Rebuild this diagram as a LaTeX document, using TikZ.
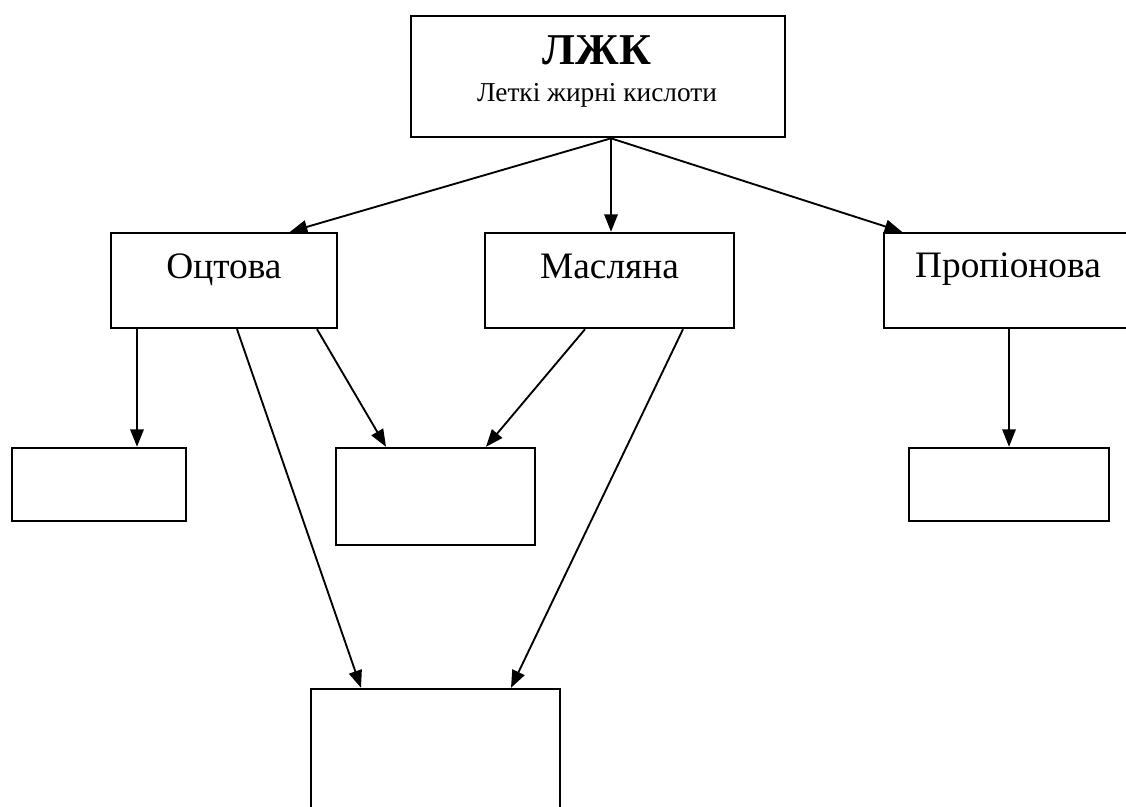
\documentclass[tikz,border=0pt]{standalone}
\usepackage{fontspec}
\setmainfont{Liberation Serif}
\usetikzlibrary{arrows.meta,positioning}
\begin{document}
\begin{tikzpicture}
[x=0.75pt,y=-0.75pt,
  boxdecorate/.style={shape=rectangle,draw,line width=1.8pt,inner sep=0pt},%
  textdecorate/.style={anchor=base,inner sep=0pt,font=\fontsize{28}{32}\selectfont},%
  linedecorate/.style={-{Triangle[length=13pt,width=10pt]},line width=1.4pt}]
\useasboundingbox (0,0) rectangle (1126,806);
%%% top box
\node (ljk) at (598,76.5) [boxdecorate,line width=2pt,minimum width=280.5pt,minimum height=90.75pt] {};
\node at (597,65) [textdecorate,font=\fontsize{33}{36}\selectfont\bfseries] {ЛЖК};
\node at (597,102) [textdecorate,font=\fontsize{20.5}{24}\selectfont] {Леткі жирні кислоти};
%%% acids
% nodes or boxes
\node (ocet) at (224,280.5) [boxdecorate,minimum width=169.5pt,minimum height=71.25pt] {};
\node at (224,278) [textdecorate] {Оцтова};
\node (masl) at (609.5,280.5) [boxdecorate,minimum width=186.75pt,minimum height=71.25pt] {};
\node at (609.5,278) [textdecorate] {Масляна};
\node (prop) at (1009,280.5) [boxdecorate,minimum width=187.5pt,minimum height=71.25pt] {};
\node at (1008,277) [textdecorate] {Пропіонова};
%%% empty boxes
\node (e1) at (99,484.5) [boxdecorate,minimum width=130.5pt,minimum height=54.75pt] {};
\node (e2) at (435.5,496.5) [boxdecorate,minimum width=149.25pt,minimum height=72.75pt] {};
\node (e3) at (1009,484.5) [boxdecorate,minimum width=150pt,minimum height=54.75pt] {};
\node (e4) at (435.5,754) [boxdecorate,minimum width=186.75pt,minimum height=97.5pt] {};
% edges or arrows
\path
([shift={(13,0)}]ljk.south) edge[linedecorate] ([shift={(66,0)}]ocet.north)
([shift={(13,0)}]ljk.south) edge[linedecorate] ([shift={(1.5,0)}]masl.north)
([shift={(13,0)}]ljk.south) edge[linedecorate] ([shift={(-107,0)}]prop.north)
([shift={(-87,0)}]ocet.south) edge[linedecorate] ([shift={(38,0)}]e1.north)
([shift={(13,0)}]ocet.south) edge[linedecorate] ([shift={(-74.5,0)}]e4.north)
([shift={(93,0)}]ocet.south) edge[linedecorate] ([shift={(-49.5,0)}]e2.north)
([shift={(-24.5,0)}]masl.south) edge[linedecorate] ([shift={(50.5,0)}]e2.north)
([shift={(73.5,0)}]masl.south) edge[linedecorate] ([shift={(75.5,0)}]e4.north)
(prop.south) edge[linedecorate] (e3.north);
\end{tikzpicture}
\end{document}
